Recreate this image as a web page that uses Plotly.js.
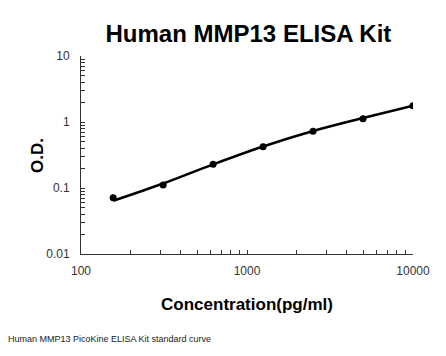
<!DOCTYPE html>
<html><head><meta charset="utf-8">
<script src="https://cdn.plot.ly/plotly-3.0.1.min.js"></script>
<style>html,body{margin:0;padding:0;background:#fff}#c{width:446px;height:356px}</style>
</head><body><div id="c"></div>
<script>
var concentration = [156.25, 312.5, 625, 1250, 2500, 5000, 10000];
var od = [0.071, 0.111, 0.229, 0.423, 0.723, 1.12, 1.77];
var curveX = [156.25, 312.5, 625, 1250, 2500, 5000, 10000];
var curveY = [0.064, 0.117, 0.228, 0.425, 0.73, 1.15, 1.77];
var xTickVals = [100,200,300,400,500,600,700,800,900,1000,2000,3000,4000,5000,6000,7000,8000,9000,10000];
var xTickText = ["100","","","","","","","","","1000","","","","","","","","","10000"];
var yTickVals = [0.01,0.02,0.03,0.04,0.05,0.06,0.07,0.08,0.09,0.1,0.2,0.3,0.4,0.5,0.6,0.7,0.8,0.9,1,2,3,4,5,6,7,8,9,10];
var yTickText = ["0.01","","","","","","","","","0.1","","","","","","","","","1","","","","","","","","","10"];

var traces = [
  {x: curveX, y: curveY, mode: 'lines', line: {color: '#000', width: 2.5, shape: 'spline'}, hoverinfo: 'skip'},
  {x: concentration, y: od, mode: 'markers', marker: {color: '#000', size: 7}}
];
var layout = {
  width: 446, height: 356,
  margin: {l: 81, r: 33, t: 56, b: 102},
  paper_bgcolor: '#fff', plot_bgcolor: '#fff',
  showlegend: false,
  font: {family: 'Liberation Sans, Arial, sans-serif', color: '#333'},
  title: {text: '<b>Human MMP13 ELISA Kit</b>', font: {size: 24, color: '#000'}, x: 0.557, xanchor: 'center', y: 0.905, yanchor: 'middle'},
  xaxis: {
    type: 'log', range: [2, 4], tickmode: 'array', tickvals: xTickVals, ticktext: xTickText,
    ticks: 'inside', ticklen: 4, tickcolor: '#333', showline: true, linecolor: '#333', linewidth: 1,
    showgrid: false, zeroline: false, tickfont: {size: 12, color: '#333'}, ticklabelstandoff: 6,
    title: {text: '<b>Concentration(pg/ml)</b>', font: {size: 17, color: '#000'}, standoff: 20}
  },
  yaxis: {
    type: 'log', range: [-2, 1], tickmode: 'array', tickvals: yTickVals, ticktext: yTickText,
    ticks: 'inside', ticklen: 4, tickcolor: '#333', showline: true, linecolor: '#333', linewidth: 1,
    showgrid: false, zeroline: false, tickfont: {size: 12, color: '#333'}, ticklabelstandoff: 8
  },
  annotations: [
    {text: '<b>O.D.</b>', xref: 'paper', yref: 'paper', x: -0.1295, y: 0.495, xanchor: 'center', yanchor: 'middle', textangle: -90, showarrow: false, font: {size: 17, color: '#000'}},
    {text: 'Human MMP13 PicoKine ELISA Kit standard curve', xref: 'paper', yref: 'paper', x: -0.227, y: -0.43, xanchor: 'left', yanchor: 'middle', showarrow: false, font: {size: 9, color: '#222'}}
  ]
};
Plotly.newPlot('c', traces, layout, {displayModeBar: false, staticPlot: true});
</script>
</body></html>
